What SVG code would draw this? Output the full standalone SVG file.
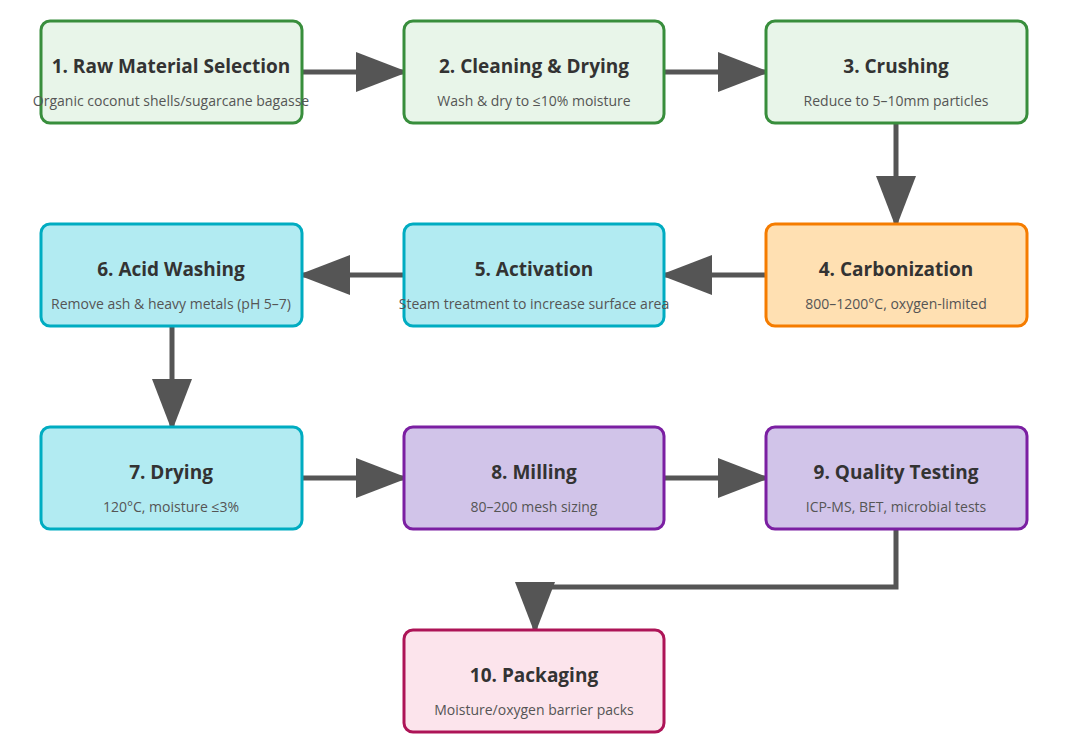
<svg xmlns="http://www.w3.org/2000/svg" width="1071" height="747" viewBox="0 0 1071 747">
<style>
rect{stroke-width:3}
.g{fill:#e8f5e9;stroke:#388e3c}.c{fill:#b2ebf2;stroke:#00acc1}.o{fill:#ffe0b2;stroke:#f57c00}.p{fill:#d1c4e9;stroke:#7b1fa2}.k{fill:#fce4ec;stroke:#ad1457}
.t{font-family:"Open Sans","Noto Sans",sans-serif;font-size:19px;font-weight:bold;fill:#333;text-anchor:middle}
.s{font-family:"Open Sans","Noto Sans",sans-serif;font-size:14px;fill:#555;text-anchor:middle}
.e{fill:none;stroke:#555;stroke-width:5;marker-end:url(#a)}
</style>
<defs><marker id="a" markerUnits="userSpaceOnUse" markerWidth="52" markerHeight="40" refX="52" refY="20" orient="auto"><path d="M0,0L52,20L0,40Z" fill="#555"/></marker></defs>
<rect width="1071" height="747" fill="#fff"/>
<g id="connectors">
<path class="e" d="M302,72H408"/>
<path class="e" d="M664,72H770"/>
<path class="e" d="M896,123V228"/>
<path class="e" d="M766,275H660"/>
<path class="e" d="M404,275H298"/>
<path class="e" d="M172,326V431"/>
<path class="e" d="M302,478H408"/>
<path class="e" d="M664,478H770"/>
<path class="e" d="M896,529V587H535V634"/>
</g>
<g id="n1"><rect class="g" x="41" y="21" width="261" height="102" rx="9"/><text class="t" x="171" y="73">1. Raw Material Selection</text><text class="s" x="171" y="106">Organic coconut shells/sugarcane bagasse</text></g>
<g id="n2"><rect class="g" x="404" y="21" width="260" height="102" rx="9"/><text class="t" x="534" y="73">2. Cleaning &amp; Drying</text><text class="s" x="534" y="106">Wash &amp; dry to ≤10% moisture</text></g>
<g id="n3"><rect class="g" x="766" y="21" width="261" height="102" rx="9"/><text class="t" x="896" y="73">3. Crushing</text><text class="s" x="896" y="106">Reduce to 5–10mm particles</text></g>
<g id="n4"><rect class="o" x="766" y="224" width="261" height="102" rx="9"/><text class="t" x="896" y="276">4. Carbonization</text><text class="s" x="896" y="309">800–1200°C, oxygen-limited</text></g>
<g id="n5"><rect class="c" x="404" y="224" width="260" height="102" rx="9"/><text class="t" x="534" y="276">5. Activation</text><text class="s" x="534" y="309">Steam treatment to increase surface area</text></g>
<g id="n6"><rect class="c" x="41" y="224" width="261" height="102" rx="9"/><text class="t" x="171" y="276">6. Acid Washing</text><text class="s" x="171" y="309">Remove ash &amp; heavy metals (pH 5–7)</text></g>
<g id="n7"><rect class="c" x="41" y="427" width="261" height="102" rx="9"/><text class="t" x="171" y="479">7. Drying</text><text class="s" x="171" y="512">120°C, moisture ≤3%</text></g>
<g id="n8"><rect class="p" x="404" y="427" width="260" height="102" rx="9"/><text class="t" x="534" y="479">8. Milling</text><text class="s" x="534" y="512">80–200 mesh sizing</text></g>
<g id="n9"><rect class="p" x="766" y="427" width="261" height="102" rx="9"/><text class="t" x="896" y="479">9. Quality Testing</text><text class="s" x="896" y="512">ICP-MS, BET, microbial tests</text></g>
<g id="n10"><rect class="k" x="404" y="630" width="260" height="102" rx="9"/><text class="t" x="534" y="682">10. Packaging</text><text class="s" x="534" y="715">Moisture/oxygen barrier packs</text></g>
</svg>
